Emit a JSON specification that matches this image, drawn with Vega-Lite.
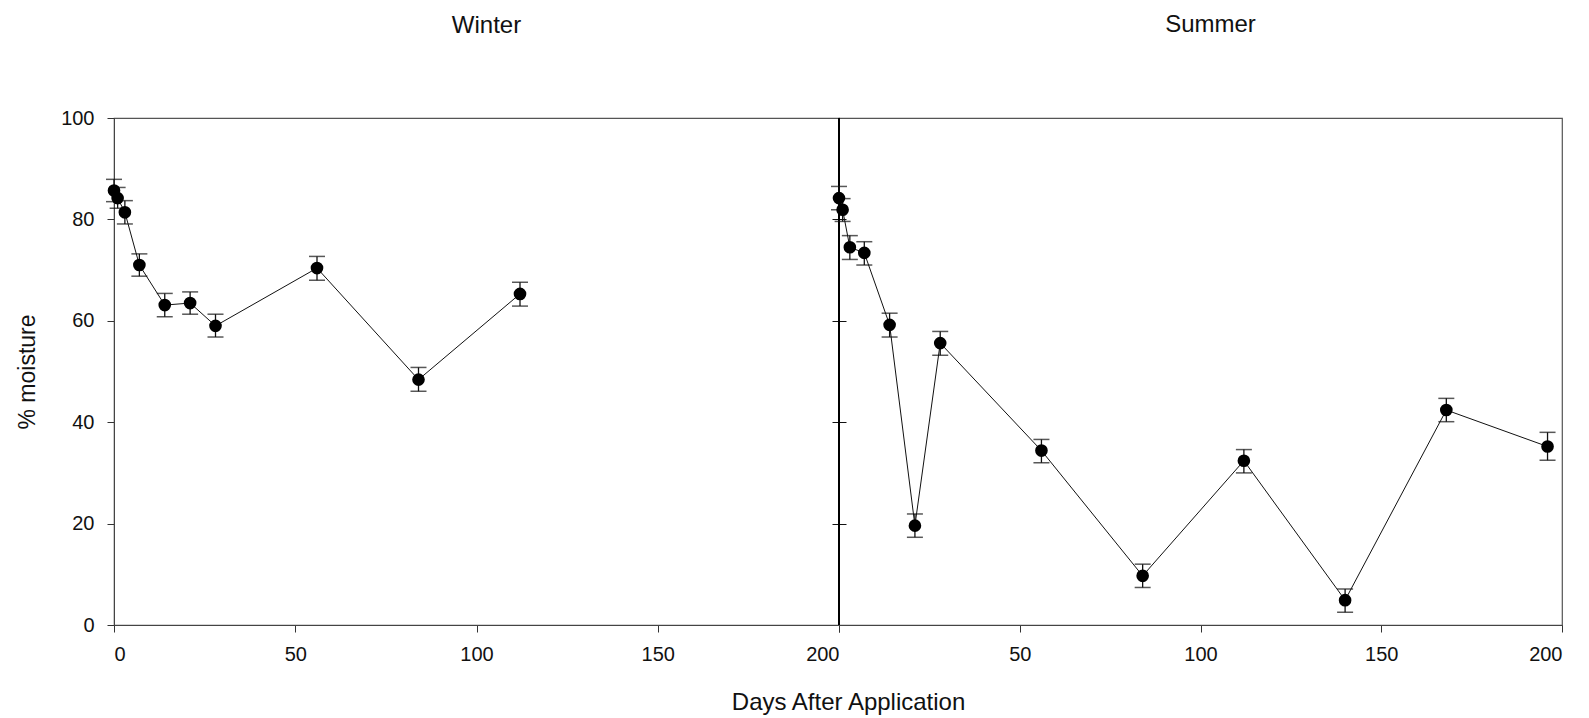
{
  "$schema": "https://vega.github.io/schema/vega-lite/v6.json",
  "background": "white",
  "padding": {"left": 16, "top": 12, "right": 28, "bottom": 0},
  "spacing": 0,
  "bounds": "flush",
  "title": {"text": "Days After Application", "orient": "bottom", "anchor": "middle", "frame": "bounds", "dx": 59, "font": "Liberation Sans", "fontSize": 24, "fontWeight": "normal", "color": "#111", "offset": 26},
  "config": {
    "view": {"stroke": "#555", "strokeWidth": 1.2},
    "axis": {"labelFont": "Liberation Sans", "labelFontSize": 20, "labelColor": "#111", "tickColor": "#333", "domainColor": "#444", "grid": false, "tickSize": 7, "titleFont": "Liberation Sans", "titleFontSize": 23, "titleFontWeight": "normal", "titleColor": "#111"},
    "title": {"font": "Liberation Sans", "fontSize": 24, "fontWeight": "normal", "color": "#111"}
  },
  "datasets": {
    "winter": [
      {"day": 0, "m": 85.7, "lo": 83.5, "hi": 87.9},
      {"day": 1, "m": 84.2, "lo": 82.2, "hi": 86.3},
      {"day": 3, "m": 81.4, "lo": 79.1, "hi": 83.7},
      {"day": 7, "m": 71.0, "lo": 68.8, "hi": 73.2},
      {"day": 14, "m": 63.1, "lo": 60.8, "hi": 65.4},
      {"day": 21, "m": 63.5, "lo": 61.3, "hi": 65.7},
      {"day": 28, "m": 59.0, "lo": 56.8, "hi": 61.3},
      {"day": 56, "m": 70.4, "lo": 68.0, "hi": 72.7},
      {"day": 84, "m": 48.4, "lo": 46.1, "hi": 50.8},
      {"day": 112, "m": 65.3, "lo": 62.9, "hi": 67.6}
    ],
    "summer": [
      {"day": 0, "m": 84.2, "lo": 81.9, "hi": 86.5},
      {"day": 1, "m": 81.9, "lo": 79.6, "hi": 84.1},
      {"day": 3, "m": 74.5, "lo": 72.1, "hi": 76.8},
      {"day": 7, "m": 73.4, "lo": 71.0, "hi": 75.6},
      {"day": 14, "m": 59.2, "lo": 56.8, "hi": 61.5},
      {"day": 21, "m": 19.6, "lo": 17.3, "hi": 21.9},
      {"day": 28, "m": 55.6, "lo": 53.2, "hi": 57.9},
      {"day": 56, "m": 34.4, "lo": 32.0, "hi": 36.6},
      {"day": 84, "m": 9.7, "lo": 7.4, "hi": 12.0},
      {"day": 112, "m": 32.4, "lo": 30.0, "hi": 34.6},
      {"day": 140, "m": 4.9, "lo": 2.5, "hi": 7.1},
      {"day": 168, "m": 42.4, "lo": 40.1, "hi": 44.7},
      {"day": 196, "m": 35.2, "lo": 32.5, "hi": 38.0}
    ]
  },
  "hconcat": [
    {
      "width": 725,
      "height": 507,
      "title": {"text": "Winter", "offset": 70, "frame": "group", "dx": 10},
      "data": {"name": "winter"},
      "encoding": {
        "x": {"field": "day", "type": "quantitative", "scale": {"domain": [0, 200], "nice": false}, "axis": {"values": [0, 50, 100, 150, 200], "title": null, "labelPadding": 12}},
        "y": {"field": "m", "type": "quantitative", "scale": {"domain": [0, 100], "nice": false}, "axis": {"values": [0, 20, 40, 60, 80, 100], "title": "% moisture", "labelPadding": 13, "titlePadding": 21}}
      },
      "layer": [
        {"mark": {"type": "line", "color": "#111", "strokeWidth": 1}},
        {"mark": {"type": "rule", "color": "#111", "strokeWidth": 1.3}, "encoding": {"y": {"field": "lo", "type": "quantitative"}, "y2": {"field": "hi"}}},
        {"mark": {"type": "tick", "orient": "horizontal", "color": "#111", "size": 16, "thickness": 1.5}, "encoding": {"y": {"field": "lo", "type": "quantitative"}}},
        {"mark": {"type": "tick", "orient": "horizontal", "color": "#111", "size": 16, "thickness": 1.5}, "encoding": {"y": {"field": "hi", "type": "quantitative"}}},
        {"mark": {"type": "point", "filled": true, "color": "#000", "opacity": 1, "size": 160}}
      ]
    },
    {
      "width": 723,
      "height": 507,
      "title": {"text": "Summer", "offset": 80, "frame": "group", "dx": 10},
      "data": {"name": "summer"},
      "encoding": {
        "x": {"field": "day", "type": "quantitative", "scale": {"domain": [0, 200], "nice": false}, "axis": {"values": [0, 50, 100, 150, 200], "title": null, "labelPadding": 12, "labelExpr": "datum.value === 0 ? '' : datum.label"}},
        "y": {"field": "m", "type": "quantitative", "scale": {"domain": [0, 100], "nice": false}, "axis": {"values": [20, 40, 60, 80], "title": null, "labels": false, "domain": false, "offset": -7, "tickSize": 14, "tickColor": "#111"}}
      },
      "layer": [
        {"mark": {"type": "rule", "color": "#000", "strokeWidth": 2}, "encoding": {"x": {"datum": 0}, "y": {"datum": 0}, "y2": {"datum": 100}}},
        {"mark": {"type": "line", "color": "#111", "strokeWidth": 1}},
        {"mark": {"type": "rule", "color": "#111", "strokeWidth": 1.3}, "encoding": {"y": {"field": "lo", "type": "quantitative"}, "y2": {"field": "hi"}}},
        {"mark": {"type": "tick", "orient": "horizontal", "color": "#111", "size": 16, "thickness": 1.5}, "encoding": {"y": {"field": "lo", "type": "quantitative"}}},
        {"mark": {"type": "tick", "orient": "horizontal", "color": "#111", "size": 16, "thickness": 1.5}, "encoding": {"y": {"field": "hi", "type": "quantitative"}}},
        {"mark": {"type": "point", "filled": true, "color": "#000", "opacity": 1, "size": 160}}
      ]
    }
  ]
}
